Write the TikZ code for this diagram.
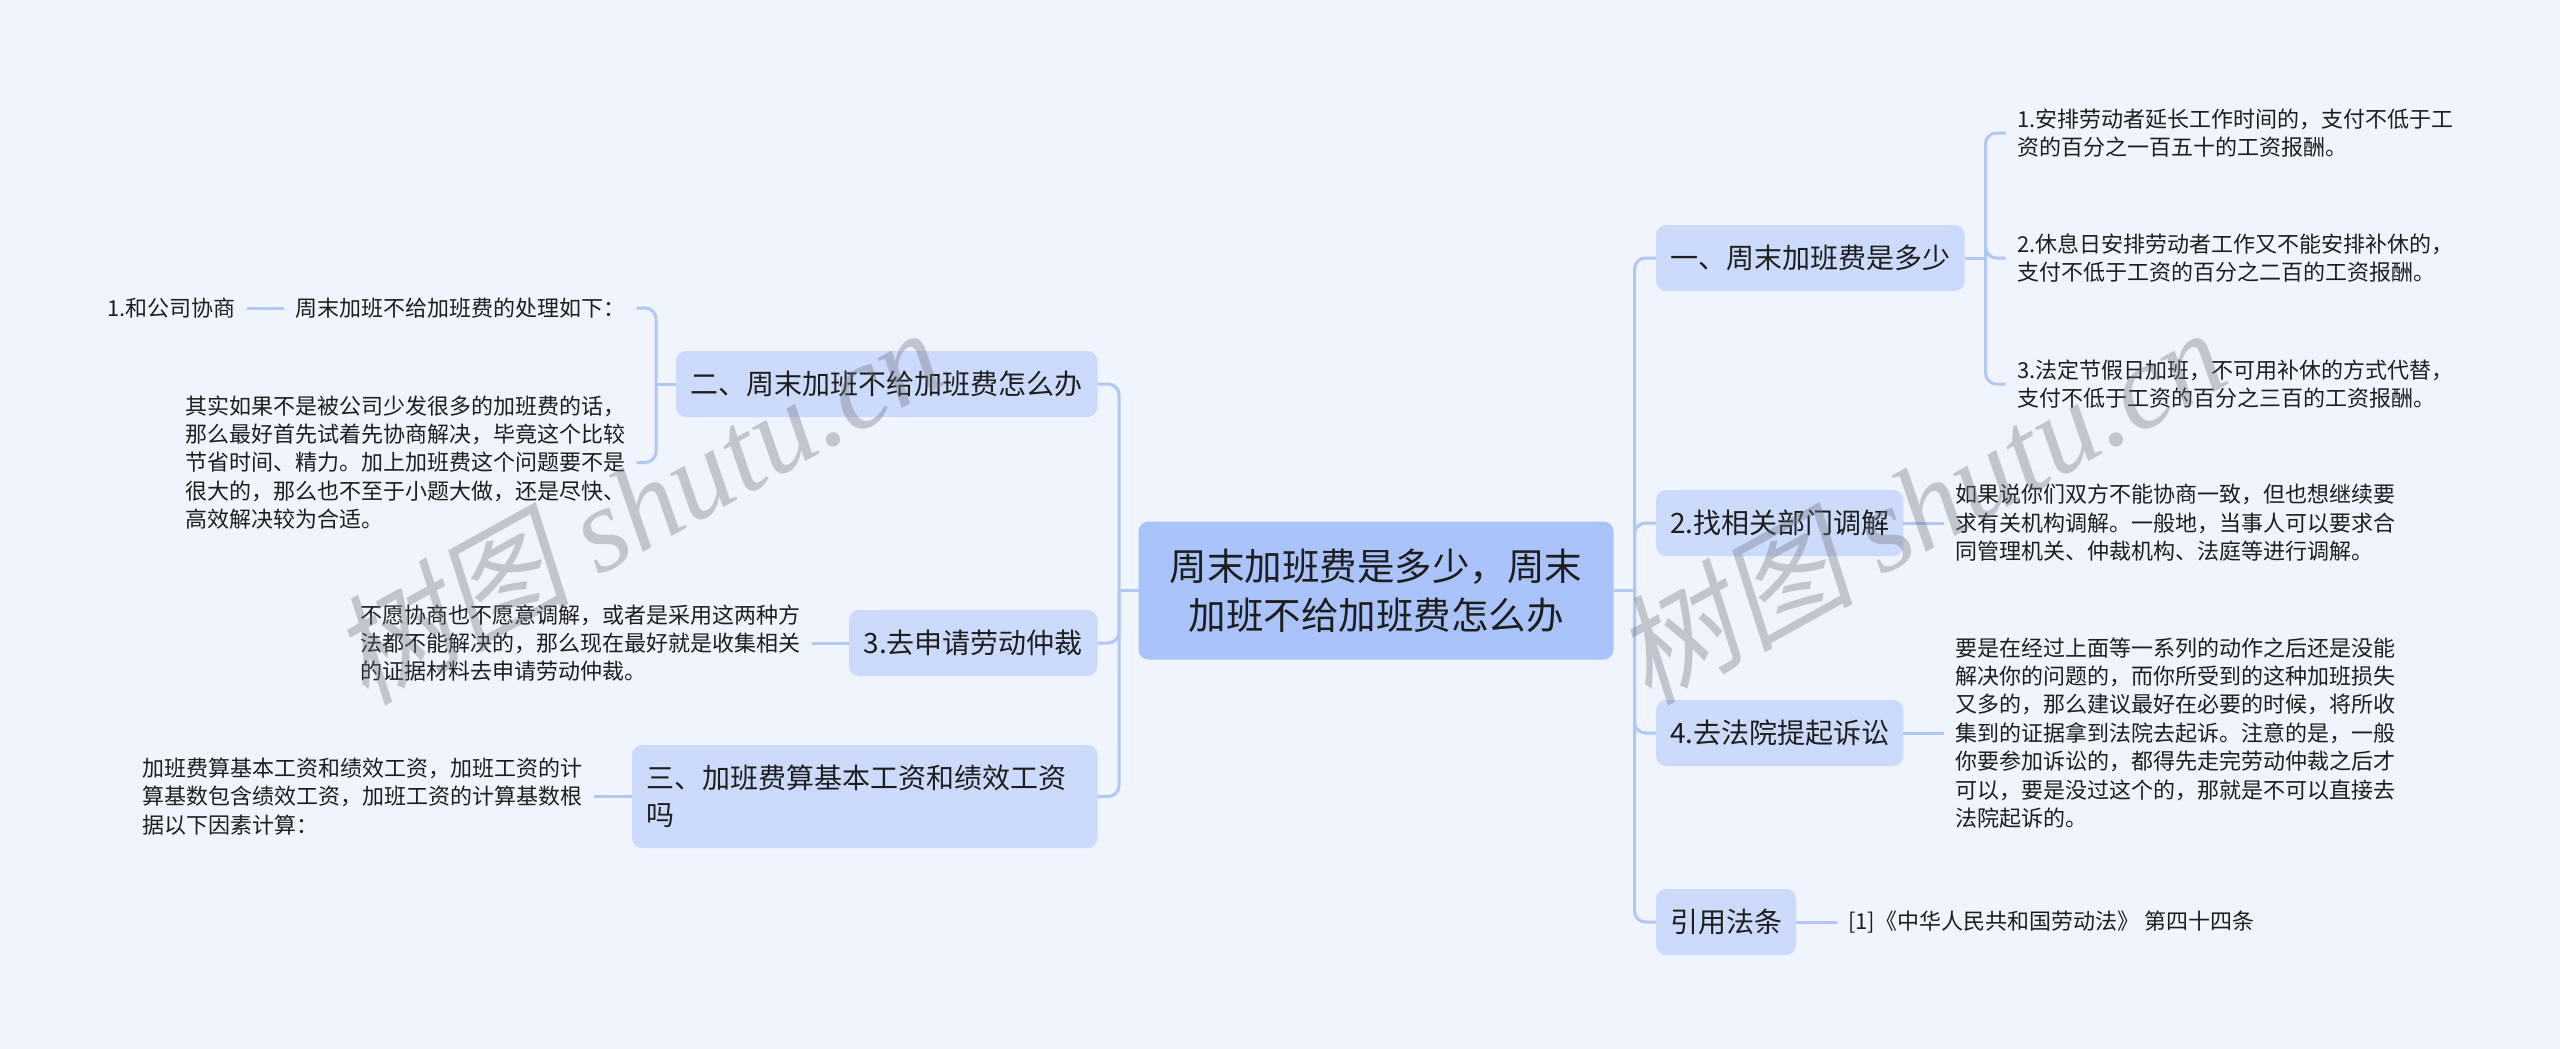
\documentclass[tikz,border=0pt]{standalone}
\usepackage{fontspec}
\setmainfont{Noto Sans CJK SC}
\newfontfamily\markcjk[FakeSlant=0.2]{Noto Sans CJK SC}
\newfontfamily\marklatin{Liberation Serif}
\definecolor{back_blue}{RGB}{239,244,253}
\definecolor{root_blue}{RGB}{170,196,251}
\definecolor{node_blue}{RGB}{204,219,251}
\definecolor{edge_blue}{RGB}{176,200,243}
\definecolor{text_gray}{RGB}{30,30,30}
\definecolor{mark_gray}{RGB}{110,115,125}

\begin{document}
\begin{tikzpicture}[x=1pt,y=-1pt,line width=3pt,edge_blue]
    \tikzstyle{box}=[rounded corners=10pt, outer sep=0pt, inner xsep=14pt, inner ysep=0pt, fill=node_blue, text=text_gray, minimum height=66pt, font=\fontsize{28}{37}\selectfont]
    \tikzstyle{rootbox}=[box, fill=root_blue, align=center, minimum width=475pt, minimum height=138pt, font=\fontsize{37.5}{49}\selectfont]
    \tikzstyle{note}=[outer sep=0pt, inner xsep=11.5pt, inner ysep=0pt, align=left, text=text_gray, font=\fontsize{22}{28.4}\selectfont]
    \tikzstyle{stamp}=[text=mark_gray, text opacity=0.36, rotate=29, font=\fontsize{120}{120}\selectfont]
    \tikzstyle{elbow_r}=[rounded corners=11pt, to path={|- (\tikztotarget.west)}]
    \tikzstyle{elbow_l}=[rounded corners=11pt, to path={|- (\tikztotarget.east)}]

    \fill[back_blue] (0,0) rectangle (2560,1049);
    \useasboundingbox (0,0) rectangle (2560,1049);

    \node[rootbox] (root) at (1376,590.5) {周末加班费是多少，周末\\加班不给加班费怎么办};

    % right side
    \node[box, anchor=west, minimum width=308.5pt] (one)   at (1656,258) {一、周末加班费是多少};
    \node[box, anchor=west, minimum width=247pt]   (two)   at (1656,523) {2.找相关部门调解};
    \node[box, anchor=west, minimum width=247pt]   (four)  at (1656,733) {4.去法院提起诉讼};
    \node[box, anchor=west, minimum width=139pt]   (law)   at (1656,922) {引用法条};

    \node[note, anchor=west] (one_a) at (2005.5,133) {1.安排劳动者延长工作时间的，支付不低于工\\资的百分之一百五十的工资报酬。};
    \node[note, anchor=west] (one_b) at (2005.5,258) {2.休息日安排劳动者工作又不能安排补休的，\\支付不低于工资的百分之二百的工资报酬。};
    \node[note, anchor=west] (one_c) at (2005.5,384) {3.法定节假日加班，不可用补休的方式代替，\\支付不低于工资的百分之三百的工资报酬。};
    \node[note, anchor=west] (two_a) at (1944,523) {如果说你们双方不能协商一致，但也想继续要\\求有关机构调解。一般地，当事人可以要求合\\同管理机关、仲裁机构、法庭等进行调解。};
    \node[note, anchor=west] (four_a) at (1944,733) {要是在经过上面等一系列的动作之后还是没能\\解决你的问题的，而你所受到的这种加班损失\\又多的，那么建议最好在必要的时候，将所收\\集到的证据拿到法院去起诉。注意的是，一般\\你要参加诉讼的，都得先走完劳动仲裁之后才\\可以，要是没过这个的，那就是不可以直接去\\法院起诉的。};
    \node[note, anchor=west] (law_a) at (1836.5,922) {[1]《中华人民共和国劳动法》 第四十四条};

    % left side
    \node[box, anchor=east, minimum width=421.5pt] (zhou)  at (1097.5,384) {二、周末加班不给加班费怎么办};
    \node[box, anchor=east, minimum width=248.5pt] (arb)   at (1097.5,643) {3.去申请劳动仲裁};
    \node[box, anchor=east, text width=437.5pt, align=left, minimum height=103pt] (calc) at (1097.5,796.5) {三、加班费算基本工资和绩效工资\\吗};

    \node[note, anchor=west] (zhou_a) at (283.5,308) {周末加班不给加班费的处理如下：};
    \node[note, anchor=east] (zhou_b) at (247,308) {1.和公司协商};
    \node[note, anchor=west] (zhou_c) at (173.5,462.5) {其实如果不是被公司少发很多的加班费的话，\\那么最好首先试着先协商解决，毕竟这个比较\\节省时间、精力。加上加班费这个问题要不是\\很大的，那么也不至于小题大做，还是尽快、\\高效解决较为合适。};
    \node[note, anchor=west] (arb_a)  at (348.5,643) {不愿协商也不愿意调解，或者是采用这两种方\\法都不能解决的，那么现在最好就是收集相关\\的证据材料去申请劳动仲裁。};
    \node[note, anchor=west] (calc_a) at (130.5,796.5) {加班费算基本工资和绩效工资，加班工资的计\\算基数包含绩效工资，加班工资的计算基数根\\据以下因素计算：};

    \coordinate (spine_r) at (1634.5,590.5);
    \coordinate (spine_l) at (1119,590.5);
    \coordinate (spine_one) at (1985.5,258);
    \coordinate (spine_zhou) at (656,384);

    \path
     (root.east) edge (spine_r)
     (root.west) edge (spine_l)
     (spine_r) edge[elbow_r] (one)
     (spine_r) edge[elbow_r] (two)
     (spine_r) edge[elbow_r] (four)
     (spine_r) edge[elbow_r] (law)
     (spine_l) edge[elbow_l] (zhou)
     (spine_l) edge[elbow_l] (arb)
     (spine_l) edge[elbow_l] (calc)
     (one.east) edge (spine_one)
     (spine_one) edge[elbow_r] (one_a)
     (spine_one) edge[elbow_r] (one_b)
     (spine_one) edge[elbow_r] (one_c)
     (two.east) edge (two_a.west)
     (four.east) edge (four_a.west)
     (law.east) edge (law_a.west)
     (zhou.west) edge (spine_zhou)
     (spine_zhou) edge[elbow_l] (zhou_a)
     (spine_zhou) edge[elbow_l] (zhou_c)
     (zhou_a.west) edge (zhou_b.east)
     (arb.west) edge (arb_a.east)
     (calc.west) edge (calc_a.east)
     ;

    \node[stamp] (mark_l) at (636,504)  {{\markcjk 树图} {\marklatin\itshape shutu.cn}};
    \node[stamp] (mark_r) at (1919,504) {{\markcjk 树图} {\marklatin\itshape shutu.cn}};
\end{tikzpicture}
\end{document}
